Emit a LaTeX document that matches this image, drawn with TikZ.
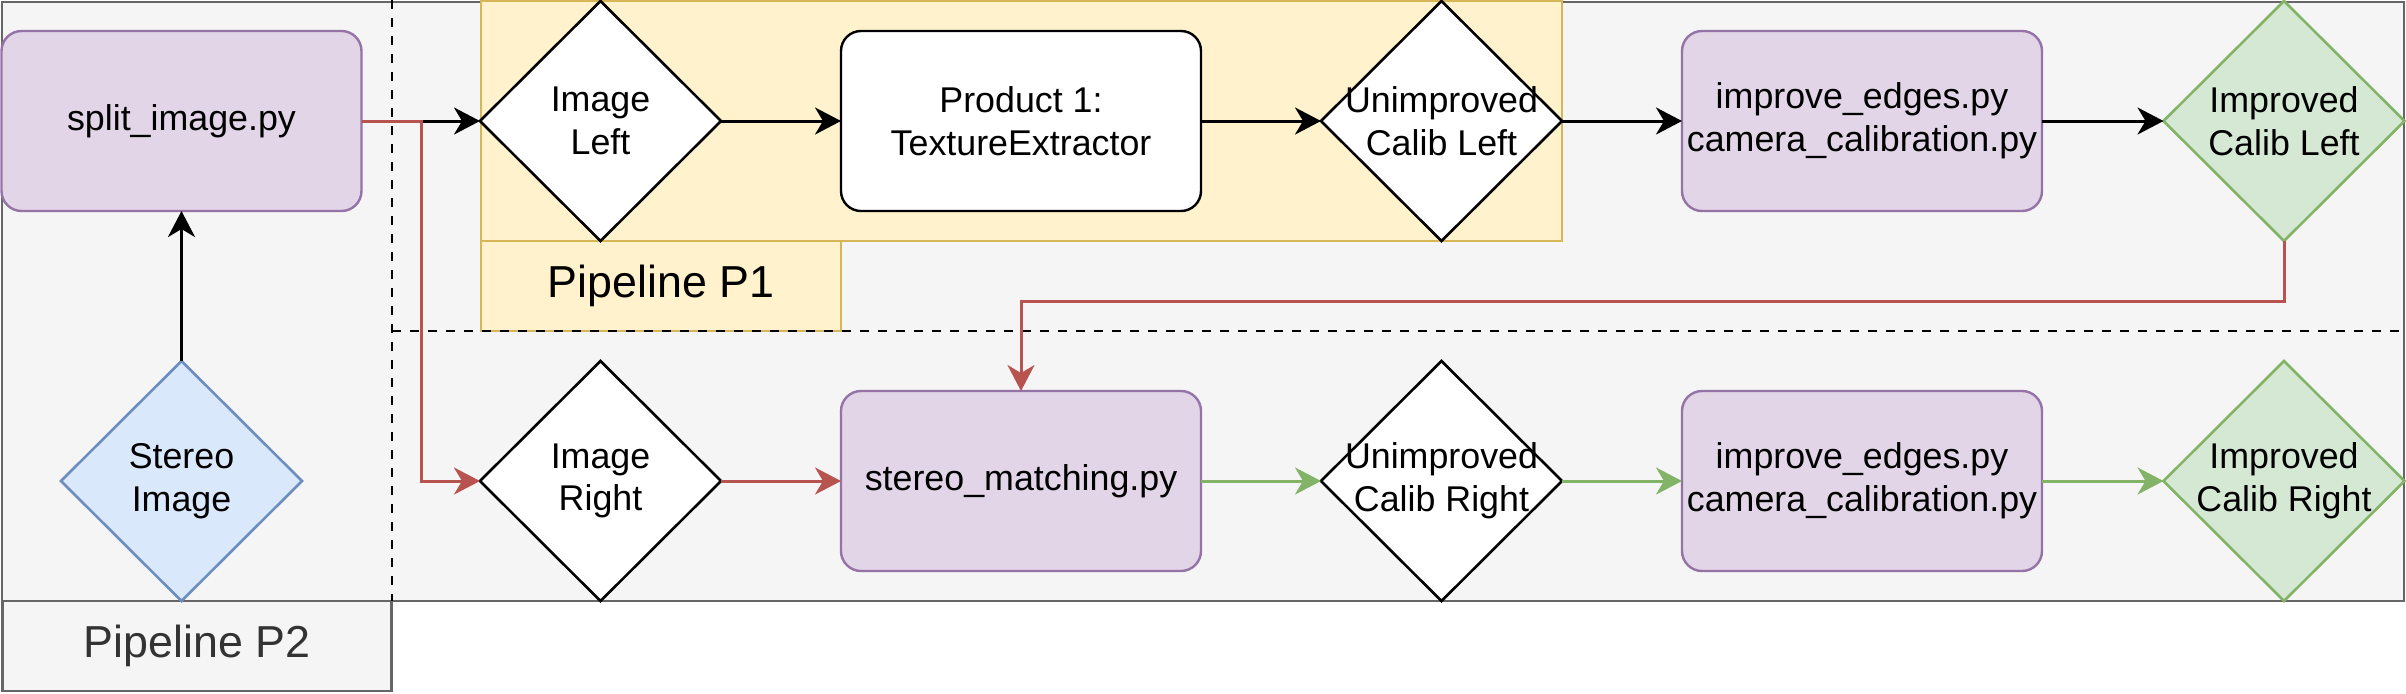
\documentclass[tikz,border=0pt]{standalone}
\usepackage{fontspec}
\setmainfont{Liberation Sans}
\usetikzlibrary{shapes.geometric,arrows.meta}
\definecolor{grayfill}{HTML}{F5F5F5}
\definecolor{graystroke}{HTML}{666666}
\definecolor{graytext}{HTML}{333333}
\definecolor{yelfill}{HTML}{FFF2CC}
\definecolor{yelstroke}{HTML}{D6B656}
\definecolor{purfill}{HTML}{E1D5E7}
\definecolor{purstroke}{HTML}{9673A6}
\definecolor{bluefill}{HTML}{DAE8FC}
\definecolor{bluestroke}{HTML}{6C8EBF}
\definecolor{grnfill}{HTML}{D5E8D4}
\definecolor{grnstroke}{HTML}{82B366}
\definecolor{redline}{HTML}{B85450}
\tikzset{
  txt/.style={font=\fontsize{17.9}{21.3}\selectfont, align=center},
  boxbase/.style={rectangle, rounded corners=10pt, line width=1.2pt, minimum width=180pt, minimum height=90pt, inner sep=0pt, outer sep=0pt, txt},
  procbox/.style={boxbase, draw=purstroke, fill=purfill},
  whitebox/.style={boxbase, draw=black, fill=white},
  dia/.style={diamond, aspect=1, minimum width=120.5pt, minimum height=120pt, inner sep=0pt, outer sep=0pt, line width=1.3pt, draw=black, fill=white},
  dblue/.style={dia, draw=bluestroke, fill=bluefill},
  dgreen/.style={dia, draw=grnstroke, fill=grnfill},
  dtxt/.style={txt, inner sep=0pt},
  conn/.style={line width=1.5pt, draw=black, -{Stealth[length=13pt,width=13.5pt,inset=4pt]}},
  connred/.style={conn, draw=redline, -{Stealth[length=13pt,width=13.5pt,inset=4pt,fill=redline]}},
  conngreen/.style={conn, draw=grnstroke, -{Stealth[length=13pt,width=13.5pt,inset=4pt,fill=grnstroke]}},
  sepline/.style={line width=1.4pt, draw=black, dash pattern=on 4.5pt off 4.5pt},
  lanelabel/.style={rectangle, inner sep=0pt, outer sep=0pt, line width=1.4pt, font=\fontsize{22.4}{26}\selectfont}
}
\begin{document}
\begin{tikzpicture}[x=0.5pt, y=-0.5pt]
\useasboundingbox (0,0) rectangle (2406,693);
% containers
\node[lanelabel, draw=graystroke, fill=grayfill, minimum width=1201pt, minimum height=299.5pt] (p2box) at (1203,301.5) {};
\node[lanelabel, draw=graystroke, fill=grayfill, text=graytext, minimum width=194.5pt, minimum height=45pt] (p2lab) at (197,646) {Pipeline P2};
\node[lanelabel, draw=yelstroke, fill=yelfill, minimum width=540.5pt, minimum height=120pt] (p1box) at (1021.5,121) {};
\node[lanelabel, draw=yelstroke, fill=yelfill, minimum width=180pt, minimum height=45pt] (p1lab) at (661,286) {Pipeline P1};
% separators
\coordinate (vtop) at (392,0);
\coordinate (vbot) at (392,601);
\coordinate (hright) at (2404,331);
\draw[sepline] (vtop) -- (vbot);
\draw[sepline] (vtop |- hright) -- (hright);
% nodes
\node[procbox] (split) at (181.5,121) {split\_image.py};
\node[dblue, label={[dtxt]center:{Stereo\\Image}}] (st) at (181.5,481) {};
\node[dia, label={[dtxt]center:{Image\\Left}}] (il) at (600.5,121) {};
\node[dia, label={[dtxt]center:{Image\\Right}}] (ir) at (600.5,481) {};
\node[whitebox] (prod) at (1021,121) {Product 1:\\TextureExtractor};
\node[procbox] (sm) at (1021,481) {stereo\_matching.py};
\node[dia, label={[dtxt]center:{Unimproved\\Calib Left}}] (ucl) at (1441.5,121) {};
\node[dia, label={[dtxt]center:{Unimproved\\Calib Right}}] (ucr) at (1441.5,481) {};
\node[procbox] (ie1) at (1862,121) {improve\_edges.py\\camera\_calibration.py};
\node[procbox] (ie2) at (1862,481) {improve\_edges.py\\camera\_calibration.py};
\node[dgreen, label={[dtxt]center:{Improved\\Calib Left}}] (icl) at (2284,121) {};
\node[dgreen, label={[dtxt]center:{Improved\\Calib Right}}] (icr) at (2284,481) {};
% connectors
\draw[conn] (st.north) -- (split.south);
\draw[conn] (split.east) -- (il.west);
\coordinate (rj) at (421,121);
\draw[connred] (split.east) -- (rj) |- (ir.west);
\draw[conn] (il.east) -- (prod.west);
\draw[conn] (prod.east) -- (ucl.west);
\draw[conn] (ucl.east) -- (ie1.west);
\draw[conn] (ie1.east) -- (icl.west);
\draw[connred] (ir.east) -- (sm.west);
\coordinate (rb) at (0,301);
\draw[connred] (icl.south) -- (icl.south |- rb) -| (sm.north);
\draw[conngreen] (sm.east) -- (ucr.west);
\draw[conngreen] (ucr.east) -- (ie2.west);
\draw[conngreen] (ie2.east) -- (icr.west);
\end{tikzpicture}
\end{document}
